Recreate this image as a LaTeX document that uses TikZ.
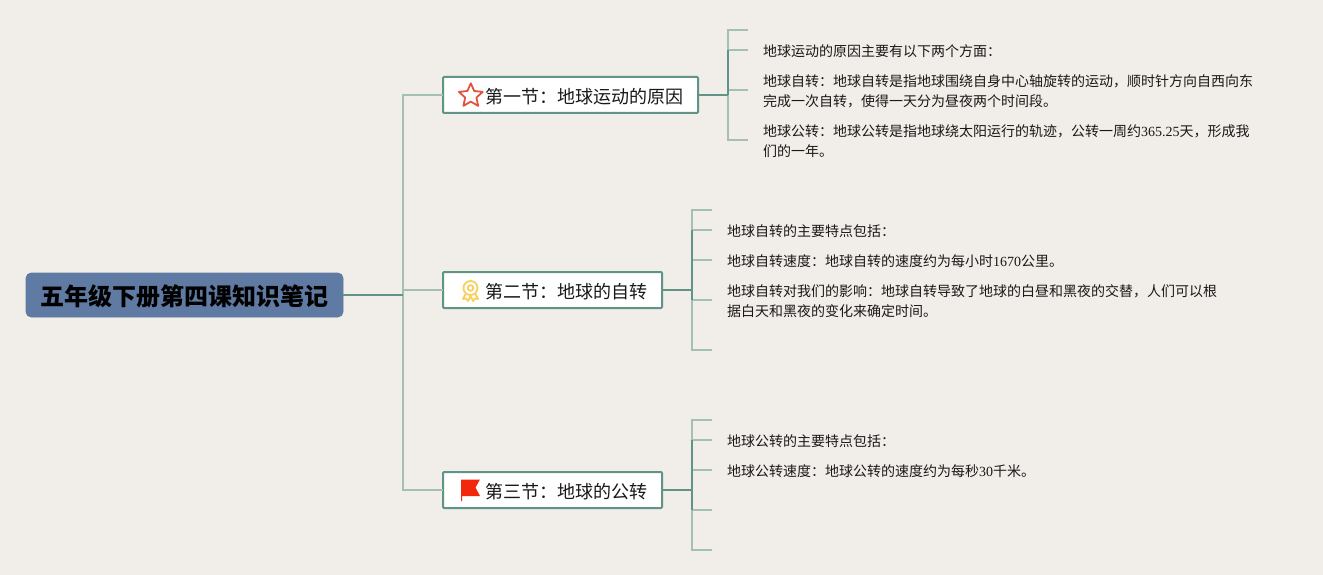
\documentclass[tikz,border=0pt]{standalone}
\usepackage{fontspec}
\setmainfont{Noto Sans CJK SC}
\newfontfamily\lat{Liberation Serif}
\definecolor{bgc}{HTML}{F1EDE8}
\definecolor{rootc}{HTML}{5F7AA3}
\definecolor{dark}{HTML}{5F9486}
\definecolor{light}{HTML}{A3C0B2}
\definecolor{starc}{HTML}{E2533F}
\definecolor{medalc}{HTML}{F8D060}
\definecolor{flagc}{HTML}{F2280C}
\tikzset{
  x=1pt,y=-1pt,
  rootbox/.style={draw=rootc,fill=rootc,rounded corners=5pt,line width=0.6pt,minimum width=317pt,minimum height=44pt,inner sep=0pt,outer sep=0pt,text height=21.6pt,text depth=0pt,font=\fontsize{24}{28}\selectfont\bfseries,text=black},
  secbox/.style={draw=dark,fill=white,rounded corners=1pt,line width=2pt,minimum height=36pt,inner ysep=0pt,inner xsep=14.5pt,outer sep=0pt,text height=16.2pt,text depth=0pt,anchor=west,font=\fontsize{18}{22}\selectfont,text=black!90},
  note/.style={anchor=west,inner xsep=15pt,inner ysep=0pt,align=left,font=\fontsize{14}{20}\selectfont,text=black!90},
  mainline/.style={draw=dark,line width=1.6pt},
  subline/.style={draw=light,line width=1.5pt}
}
\begin{document}
\begin{tikzpicture}
\useasboundingbox[fill=bgc] (0,0) rectangle (1323,575);

% root and sections
\node[rootbox] (root) at (184.5,295) {五年级下册第四课知识笔记};
\node[secbox] (s1) at (443,95) {\hspace*{28pt}第一节：地球运动的原因};
\node[secbox] (s2) at (443,290) {\hspace*{28pt}第二节：地球的自转};
\node[secbox] (s3) at (443,490) {\hspace*{28pt}第三节：地球的公转};

% connectors root -> sections
\coordinate (hub) at (403,295);
\coordinate (hubA) at (403,95);
\coordinate (hubB) at (403,290);
\coordinate (hubC) at (403,490);
\draw[subline] (s1.west) -- (hubA) -- (hubC) -- (s3.west);
\draw[subline] (hubB) -- (s2.west);
\draw[mainline] (root.east) -- (hub);

% section 1 notes
\coordinate (a0) at (748,30);
\node[note] (a1) at (748,51.5) {地球运动的原因主要有以下两个方面：};
\node[note] (a2) at (748,91.5) {地球自转：地球自转是指地球围绕自身中心轴旋转的运动，顺时针方向自西向东\\完成一次自转，使得一天分为昼夜两个时间段。};
\node[note] (a3) at (748,141.5) {地球公转：地球公转是指地球绕太阳运行的轨迹，公转一周约{\lat 365.25}天，形成我\\们的一年。};
\coordinate (ta) at (728,95);
\coordinate (ta0) at (728,30);
\coordinate (ta1) at (728,50);
\coordinate (ta2) at (728,90);
\coordinate (ta3) at (728,140);
\draw[subline] (a0) -- (ta0) -- (ta3) -- (ta3 -| a3.west);
\draw[subline] (ta1) -- (ta1 -| a1.west) (ta2) -- (ta2 -| a2.west);
\draw[mainline] (ta1) -- (ta);
\draw[mainline] (s1.east) -- (ta);

% section 2 notes
\coordinate (b0) at (712,210);
\node[note] (b1) at (712,231.5) {地球自转的主要特点包括：};
\node[note] (b2) at (712,261.5) {地球自转速度：地球自转的速度约为每小时{\lat 1670}公里。};
\node[note] (b3) at (712,301.5) {地球自转对我们的影响：地球自转导致了地球的白昼和黑夜的交替，人们可以根\\据白天和黑夜的变化来确定时间。};
\coordinate (b4) at (712,350);
\coordinate (tb) at (692,290);
\coordinate (tb0) at (692,210);
\coordinate (tb1) at (692,230);
\coordinate (tb2) at (692,260);
\coordinate (tb3) at (692,300);
\coordinate (tb4) at (692,350);
\draw[subline] (b0) -- (tb0) -- (tb4) -- (b4);
\draw[subline] (tb1) -- (tb1 -| b1.west) (tb2) -- (tb2 -| b2.west) (tb3) -- (tb3 -| b3.west);
\draw[mainline] (tb1) -- (tb3);
\draw[mainline] (s2.east) -- (tb);

% section 3 notes
\coordinate (c0) at (712,420);
\node[note] (c1) at (712,441.5) {地球公转的主要特点包括：};
\node[note] (c2) at (712,471.5) {地球公转速度：地球公转的速度约为每秒{\lat 30}千米。};
\coordinate (c3) at (712,510);
\coordinate (c4) at (712,550);
\coordinate (tc) at (692,490);
\coordinate (tc0) at (692,420);
\coordinate (tc1) at (692,440);
\coordinate (tc2) at (692,470);
\coordinate (tc3) at (692,510);
\coordinate (tc4) at (692,550);
\draw[subline] (c0) -- (tc0) -- (tc4) -- (c4);
\draw[subline] (tc1) -- (tc1 -| c1.west) (tc2) -- (tc2 -| c2.west) (tc3) -- (c3);
\draw[mainline] (tc1) -- (tc3);
\draw[mainline] (s3.east) -- (tc);

% star icon
\draw[draw=starc,line width=1.8pt,line join=round,fill=white]
  (470.8,83.3) -- (474.2,91) -- (482.7,91.9) -- (476.4,97.6) -- (478.2,105.9) -- (470.8,101.6) -- (463.4,105.9) -- (465.2,97.6) -- (458.9,91.9) -- (467.4,91) -- cycle;

% medal icon
\begin{scope}[draw=medalc,line width=1.8pt,line join=round]
  \draw (470.5,288) circle[radius=7];
  \draw (470.5,288) circle[radius=2.8];
  \draw (465.5,294) -- (463,299) -- (466,298.5) -- (468,301) -- (470.5,296) -- (473,301) -- (475,298.5) -- (478,299) -- (475.5,294);
\end{scope}

% flag icon
\fill[flagc] (461,479.5) -- (480,479.5) -- (475.5,487.5) -- (480,496) -- (462,496) -- (462,501) -- (461,501) -- cycle;
\end{tikzpicture}
\end{document}
